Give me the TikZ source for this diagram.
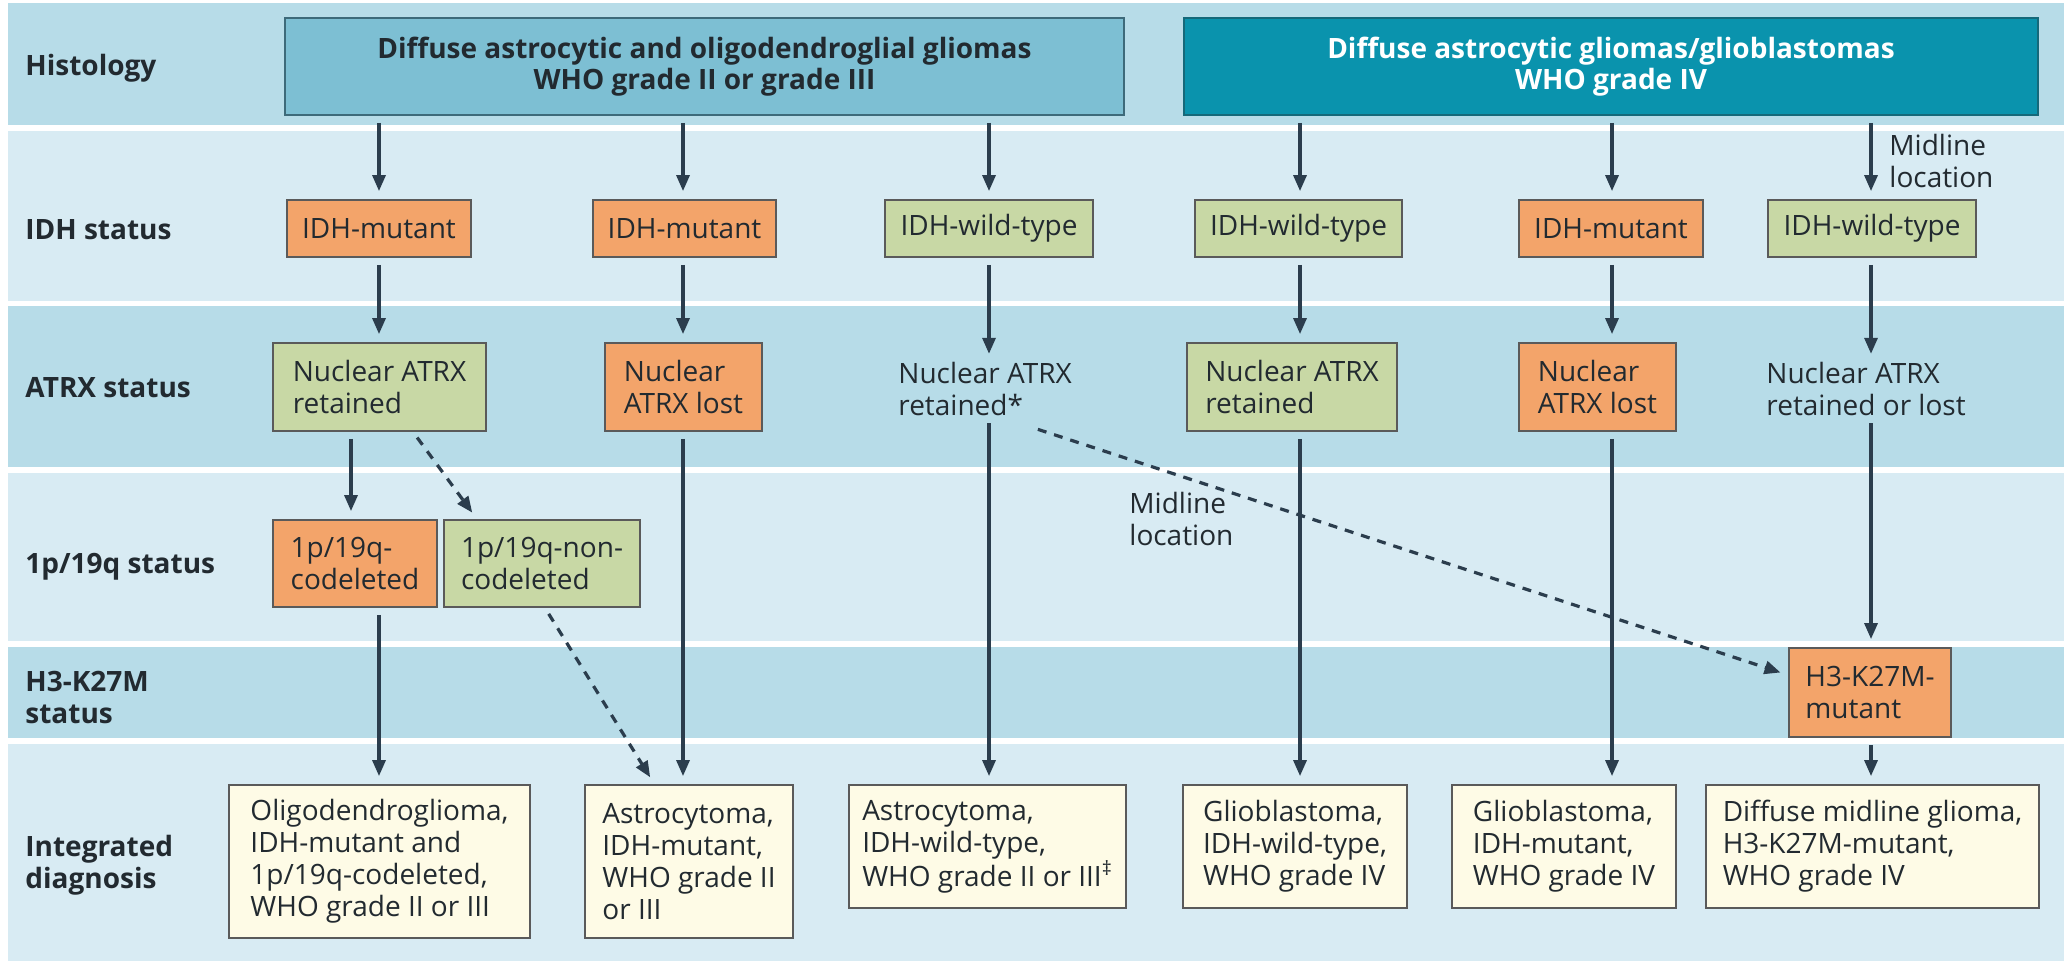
\documentclass[tikz,border=0pt]{standalone}
\usepackage{fontspec}
\setmainfont{Open Sans}
\usetikzlibrary{arrows.meta,calc}
\definecolor{banddark}{HTML}{B7DCE8}
\definecolor{bandlight}{HTML}{D8EBF3}
\definecolor{hdrA}{HTML}{7DBFD3}
\definecolor{hdrB}{HTML}{0A93AD}
\definecolor{hdrAline}{HTML}{3D6A7A}
\definecolor{hdrBline}{HTML}{15697A}
\definecolor{orangebox}{HTML}{F3A46A}
\definecolor{greenbox}{HTML}{C8D8A5}
\definecolor{creambox}{HTML}{FEFBE6}
\definecolor{boxline}{HTML}{5A5A5A}
\definecolor{arrowcol}{HTML}{2B3D4D}
\definecolor{txt}{HTML}{222A30}
\begin{document}
\begin{tikzpicture}[x=0.5pt,y=-0.5pt,
  every node/.style={font=\fontsize{14}{16}\selectfont, text=txt},
  rowlabel/.style={anchor=west, align=left, inner sep=0pt, font=\bfseries\fontsize{14}{16}\selectfont},
  box/.style={draw=boxline, line width=0.9pt, inner sep=0pt, align=left},
  orangeb/.style={box, fill=orangebox},
  greenb/.style={box, fill=greenbox},
  dxb/.style={box, fill=creambox},
  plaintext/.style={anchor=west, align=left, inner sep=0pt},
  hdr/.style={line width=0.9pt, inner sep=0pt, align=center, font=\bfseries\fontsize{14}{15.5}\selectfont},
  arr/.style={draw=arrowcol, line width=1.6pt, shorten <=3.5pt, shorten >=4pt, -{Triangle[length=8pt,width=6.5pt]}},
  darr/.style={arr, dash pattern=on 4.5pt off 4pt},
]
\useasboundingbox (0,0) rectangle (2064,961);
\fill[white] (0,0) rectangle (2064,961);
% bands
\fill[banddark]  (8,3)   rectangle (2064,125);
\fill[bandlight] (8,131) rectangle (2064,301);
\fill[banddark]  (8,306) rectangle (2064,467);
\fill[bandlight] (8,473) rectangle (2064,641);
\fill[banddark]  (8,647) rectangle (2064,738);
\fill[bandlight] (8,744) rectangle (2064,961);
% column coordinates
\coordinate (c1) at (379,0);
\coordinate (c1b) at (351,0);
\coordinate (c2) at (683,0);
\coordinate (c3) at (989,0);
\coordinate (c4) at (1300,0);
\coordinate (c5) at (1612,0);
\coordinate (c6) at (1871,0);
% row labels
\node[rowlabel] (lhist) at (25,68) {Histology};
\node[rowlabel] (lidh) at (25,230) {IDH status};
\node[rowlabel] (latrx) at (25,388) {ATRX status};
\node[rowlabel] (lp19) at (25,567) {1p/19q status};
\node[rowlabel] (lh3) at (25,697) {H3-K27M\\status};
\node[rowlabel] (ldx) at (25,865) {Integrated\\diagnosis};
% headers
\node[hdr, draw=hdrAline, fill=hdrA, minimum width=419.5pt, minimum height=48.5pt] (hdr1) at (704.5,66.5)
  {Diffuse astrocytic and oligodendroglial gliomas\\WHO grade II or grade III};
\node[hdr, draw=hdrBline, fill=hdrB, text=white, minimum width=427pt, minimum height=48.5pt] (hdr2) at (1611,66.5)
  {Diffuse astrocytic gliomas/glioblastomas\\WHO grade IV};
% IDH row
\node[orangeb, minimum width=92pt, minimum height=28.5pt] (idh1) at (379,228.5) {IDH-mutant};
\node[orangeb, minimum width=91.5pt, minimum height=28.5pt] (idh2) at (684.5,228.5) {IDH-mutant};
\node[greenb, minimum width=104pt, minimum height=28.5pt] (idh3) at (989,228.5) {IDH-wild-type};
\node[greenb, minimum width=103.5pt, minimum height=28.5pt] (idh4) at (1298.5,228.5) {IDH-wild-type};
\node[orangeb, minimum width=92pt, minimum height=28.5pt] (idh5) at (1611,228.5) {IDH-mutant};
\node[greenb, minimum width=104pt, minimum height=28.5pt] (idh6) at (1872,228.5) {IDH-wild-type};
% ATRX row
\node[greenb, minimum width=106.5pt, minimum height=44pt] (atrx1) at (379.5,387) {Nuclear ATRX\\retained};
\node[orangeb, minimum width=78.5pt, minimum height=44pt] (atrx2) at (683.5,387) {Nuclear\\ATRX lost};
\node[plaintext] (atrx3) at (898,389) {Nuclear ATRX\\retained*};
\node[greenb, minimum width=105pt, minimum height=44pt] (atrx4) at (1292,387) {Nuclear ATRX\\retained};
\node[orangeb, minimum width=78.5pt, minimum height=44pt] (atrx5) at (1597.5,387) {Nuclear\\ATRX lost};
\node[plaintext] (atrx6) at (1766,389) {Nuclear ATRX\\retained or lost};
% 1p/19q row
\node[orangeb, minimum width=82pt, minimum height=43.5pt] (p19a) at (355,563.5) {1p/19q-\\codeleted};
\node[greenb, minimum width=98pt, minimum height=43.5pt] (p19b) at (542,563.5) {1p/19q-non-\\codeleted};
% H3 row
\node[orangeb, minimum width=81pt, minimum height=44.5pt] (h3) at (1870,692.5) {H3-K27M-\\mutant};
% diagnosis row
\node[dxb, minimum width=150.5pt, minimum height=76.5pt] (dx1) at (379.5,861.5)
  {Oligodendroglioma,\\IDH-mutant and\\1p/19q-codeleted,\\WHO grade II or III};
\node[dxb, minimum width=104pt, minimum height=76.5pt] (dx2) at (689,861.5)
  {Astrocytoma,\\IDH-mutant,\\WHO grade II\\or III};
\node[dxb, minimum width=138.5pt, minimum height=61.5pt] (dx3) at (987.5,846.5)
  {Astrocytoma,\\IDH-wild-type,\\WHO grade II or III\textsuperscript{‡}};
\node[dxb, minimum width=112pt, minimum height=61.5pt] (dx4) at (1295,846.5)
  {Glioblastoma,\\IDH-wild-type,\\WHO grade IV};
\node[dxb, minimum width=112pt, minimum height=61.5pt] (dx5) at (1564,846.5)
  {Glioblastoma,\\IDH-mutant,\\WHO grade IV};
\node[dxb, minimum width=166.5pt, minimum height=61.5pt] (dx6) at (1872.5,846.5)
  {Diffuse midline glioma,\\H3-K27M-mutant,\\WHO grade IV};
% labels
\node[plaintext] (ml1) at (1889,161) {Midline\\location};
\node[plaintext] (ml2) at (1129,519) {Midline\\location};
% arrows header -> IDH
\draw[arr] (hdr1.south -| c1) -- (idh1.north -| c1);
\draw[arr] (hdr1.south -| c2) -- (idh2.north -| c2);
\draw[arr] (hdr1.south -| c3) -- (idh3.north -| c3);
\draw[arr] (hdr2.south -| c4) -- (idh4.north -| c4);
\draw[arr] (hdr2.south -| c5) -- (idh5.north -| c5);
\draw[arr] (hdr2.south -| c6) -- (idh6.north -| c6);
% IDH -> ATRX
\draw[arr] (idh1.south -| c1) -- (atrx1.north -| c1);
\draw[arr] (idh2.south -| c2) -- (atrx2.north -| c2);
\draw[arr] (idh3.south -| c3) -- (atrx3.north -| c3);
\draw[arr] (idh4.south -| c4) -- (atrx4.north -| c4);
\draw[arr] (idh5.south -| c5) -- (atrx5.north -| c5);
\draw[arr] (idh6.south -| c6) -- (atrx6.north -| c6);
% ATRX -> next
\draw[arr] (atrx1.south -| c1b) -- (p19a.north -| c1b);
\draw[darr] ([xshift=16.75pt]atrx1.south) -- ([xshift=-32.5pt]p19b.north);
\draw[arr] (p19a.south -| c1) -- (dx1.north -| c1);
\draw[darr] ([xshift=1.5pt]p19b.south) -- ([xshift=-17.3pt]dx2.north);
\draw[arr] (atrx2.south -| c2) -- (dx2.north -| c2);
\draw[arr] (atrx3.south -| c3) -- (dx3.north -| c3);
\draw[darr] ([xshift=-20.5pt,yshift=-5.5pt]atrx3.south east) -- ([yshift=8.75pt]h3.west);
\draw[arr] (atrx4.south -| c4) -- (dx4.north -| c4);
\draw[arr] (atrx5.south -| c5) -- (dx5.north -| c5);
\draw[arr] (atrx6.south -| c6) -- (h3.north -| c6);
\draw[arr] (h3.south -| c6) -- (dx6.north -| c6);
\end{tikzpicture}
\end{document}
